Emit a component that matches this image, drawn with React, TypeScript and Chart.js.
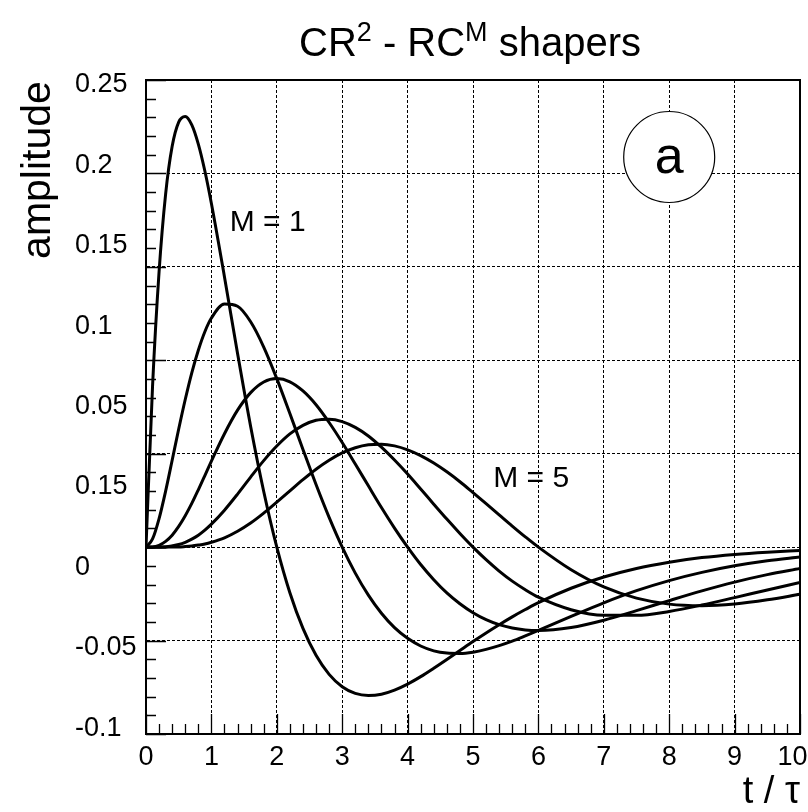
import React, { useEffect, useRef } from 'react';
import { Chart, registerables } from 'chart.js';

Chart.register(...registerables);

// time axis samples (t / tau)
const T = [0, 0.1, 0.2, 0.3, 0.4, 0.5, 0.6, 0.7, 0.8, 0.9, 1.0,
  1.2, 1.4, 1.6, 1.8, 2.0, 2.2, 2.4, 2.6, 2.8, 3.0,
  3.2, 3.4, 3.6, 3.8, 4.0, 4.2, 4.4, 4.6, 4.8, 5.0,
  5.2, 5.4, 5.6, 5.8, 6.0, 6.5, 7.0, 7.5, 8.0, 8.5, 9.0, 9.5, 10];

// shaper outputs, M = 1 ... 5
const M1 = [0, 0.0860, 0.1474, 0.1889, 0.2145, 0.2275, 0.2305, 0.2260, 0.2157, 0.2013, 0.1839,
  0.1446, 0.1036, 0.0646, 0.0298, 0, -0.0244, -0.0435, -0.0579, -0.0681, -0.0747,
  -0.0783, -0.0794, -0.0787, -0.0765, -0.0733, -0.0693, -0.0648, -0.0601, -0.0553, -0.0505,
  -0.0459, -0.0415, -0.0373, -0.0334, -0.0297, -0.0220, -0.0160, -0.0114, -0.0081, -0.0056, -0.0039, -0.0027, -0.0018];
const M2 = [0, 0.0044, 0.0153, 0.0300, 0.0465, 0.0632, 0.0790, 0.0933, 0.1054, 0.1153, 0.1226,
  0.1301, 0.1289, 0.1206, 0.1071, 0.0902, 0.0715, 0.0523, 0.0335, 0.0159, 0,
  -0.0139, -0.0257, -0.0354, -0.0431, -0.0488, -0.0529, -0.0555, -0.0567, -0.0569, -0.0562,
  -0.0547, -0.0527, -0.0503, -0.0475, -0.0446, -0.0371, -0.0298, -0.0233, -0.0179, -0.0135, -0.0100, -0.0073, -0.0053];
const M3 = [0, 0.0001, 0.0010, 0.0031, 0.0064, 0.0111, 0.0168, 0.0234, 0.0307, 0.0383, 0.0460,
  0.0607, 0.0733, 0.0827, 0.0884, 0.0902, 0.0885, 0.0836, 0.0762, 0.0667, 0.0560,
  0.0445, 0.0328, 0.0212, 0.0102, 0, -0.0093, -0.0174, -0.0245, -0.0303, -0.0351,
  -0.0388, -0.0415, -0.0433, -0.0443, -0.0446, -0.0430, -0.0391, -0.0340, -0.0286, -0.0234, -0.0187, -0.0147, -0.0114];
const M4 = [0, 0, 0.0001, 0.0002, 0.0007, 0.0014, 0.0026, 0.0043, 0.0064, 0.0091, 0.0123,
  0.0198, 0.0284, 0.0375, 0.0463, 0.0541, 0.0606, 0.0652, 0.0679, 0.0685, 0.0672,
  0.0641, 0.0595, 0.0535, 0.0466, 0.0391, 0.0311, 0.0230, 0.0150, 0.0073, 0,
  -0.0067, -0.0128, -0.0182, -0.0228, -0.0268, -0.0335, -0.0365, -0.0365, -0.0344, -0.0310, -0.0270, -0.0229, -0.0189];
const M5 = [0, 0, 0, 0, 0.0001, 0.0001, 0.0003, 0.0006, 0.0011, 0.0017, 0.0026,
  0.0050, 0.0085, 0.0129, 0.0182, 0.0241, 0.0301, 0.0361, 0.0417, 0.0465, 0.0504,
  0.0532, 0.0548, 0.0551, 0.0542, 0.0521, 0.0490, 0.0450, 0.0403, 0.0350, 0.0292,
  0.0233, 0.0173, 0.0113, 0.0055, 0, -0.0121, -0.0213, -0.0273, -0.0305, -0.0313, -0.0304, -0.0282, -0.0252];
const SERIES = [M1, M2, M3, M4, M5];

const X_TICKS = [0, 1, 2, 3, 4, 5, 6, 7, 8, 9, 10];
const Y_GRID = [-0.1, -0.05, 0, 0.05, 0.1, 0.15, 0.2, 0.25];
// tick labels exactly as printed on the figure (top to bottom)
const Y_LABELS = ['0.25', '0.2', '0.15', '0.1', '0.05', '0.15', '0', '-0.05', '-0.1'];

const TITLE_PARTS = [
  { text: 'CR', sup: false },
  { text: '2', sup: true },
  { text: ' - RC', sup: false },
  { text: 'M', sup: true },
  { text: ' shapers', sup: false },
];
const Y_TITLE = 'amplitude';
const X_TITLE = 't / \u03c4';
const CURVE_LABELS = [
  { text: 'M = 1', x: 1.28, y: 0.169 },
  { text: 'M = 5', x: 5.31, y: 0.032 },
];
const PANEL = { text: 'a', x: 8, y: 0.2088 };

const FONT = '"Liberation Sans", Arial, Helvetica, sans-serif';

const decorPlugin = {
  id: 'decor',
  beforeDatasetsDraw(chart: any) {
    const { ctx, chartArea, scales } = chart;
    const x = scales.x, y = scales.y;
    ctx.save();
    ctx.strokeStyle = '#000';
    ctx.lineWidth = 1.3;
    ctx.beginPath();
    for (let k = 0; k <= 50; k++) {
      const px = Math.round(x.getPixelForValue(k * 0.2)) + 0.5;
      const len = k % 5 === 0 ? 20 : 10;
      ctx.moveTo(px, chartArea.bottom);
      ctx.lineTo(px, chartArea.bottom - len);
    }
    for (let k = 0; k <= 35; k++) {
      const py = Math.round(y.getPixelForValue(-0.1 + k * 0.01)) + 0.5;
      const len = k % 5 === 0 ? 20 : 10;
      ctx.moveTo(chartArea.left, py);
      ctx.lineTo(chartArea.left + len, py);
    }
    ctx.stroke();
    ctx.restore();
  },
  afterDraw(chart: any) {
    const { ctx, chartArea, scales } = chart;
    const x = scales.x, y = scales.y;
    ctx.save();
    ctx.fillStyle = '#000';
    // title with superscripts
    const big = `40px ${FONT}`, small = `27px ${FONT}`;
    let total = 0;
    TITLE_PARTS.forEach((p) => { ctx.font = p.sup ? small : big; total += ctx.measureText(p.text).width; });
    let tx = (chartArea.left + chartArea.right) / 2 - 3 - total / 2;
    ctx.textAlign = 'left';
    ctx.textBaseline = 'alphabetic';
    TITLE_PARTS.forEach((p) => {
      ctx.font = p.sup ? small : big;
      ctx.fillText(p.text, tx, p.sup ? 41 : 56);
      tx += ctx.measureText(p.text).width;
    });
    // y title
    ctx.save();
    ctx.translate(50, 170);
    ctx.rotate(-Math.PI / 2);
    ctx.font = `41px ${FONT}`;
    ctx.textAlign = 'center';
    ctx.fillText(Y_TITLE, 0, 0);
    ctx.restore();
    // curve labels
    ctx.font = `30px ${FONT}`;
    ctx.textAlign = 'left';
    CURVE_LABELS.forEach((l) => ctx.fillText(l.text, x.getPixelForValue(l.x), y.getPixelForValue(l.y)));
    // panel marker
    const cx = x.getPixelForValue(PANEL.x), cy = y.getPixelForValue(PANEL.y);
    ctx.beginPath();
    ctx.arc(cx, cy, 45.5, 0, Math.PI * 2);
    ctx.fillStyle = '#fff';
    ctx.fill();
    ctx.lineWidth = 1.2;
    ctx.strokeStyle = '#000';
    ctx.stroke();
    ctx.fillStyle = '#000';
    ctx.font = `52px ${FONT}`;
    ctx.textAlign = 'center';
    ctx.fillText(PANEL.text, cx, cy + 16);
    ctx.restore();
  },
};

export default function App() {
  const ref = useRef<HTMLCanvasElement>(null);
  useEffect(() => {
    document.body.style.margin = '0';
    const canvas = ref.current!;
    const chart = new Chart(canvas, {
      type: 'line',
      data: {
        datasets: SERIES.map((s, k) => ({
          label: `M = ${k + 1}`,
          data: T.map((t, i) => ({ x: t, y: s[i] })),
          borderColor: '#000',
          borderWidth: 3,
          pointRadius: 0,
          fill: false,
          cubicInterpolationMode: 'monotone' as const,
          xAxisID: 'x',
          yAxisID: 'y',
        })),
      },
      options: {
        responsive: false,
        animation: false,
        events: [],
        layout: { padding: { left: 75, top: 80, right: 8, bottom: 0 } },
        plugins: { legend: { display: false }, tooltip: { enabled: false }, title: { display: false } },
        scales: {
          x: {
            type: 'linear', position: 'bottom', min: 0, max: 10,
            afterBuildTicks: (s: any) => { s.ticks = X_TICKS.map((v) => ({ value: v })); },
            ticks: {
              autoSkip: false, maxRotation: 0, padding: 7, color: '#000',
              font: { family: FONT, size: 27 },
              callback: (v: any) => (Number(v) === 10 ? '10\u00a0\u00a0' : String(v)),
            },
            grid: { color: '#000', lineWidth: 1, drawTicks: false },
            border: { color: '#000', width: 2, dash: [3, 2] },
            title: {
              display: true, text: X_TITLE, align: 'end', color: '#000',
              font: { family: FONT, size: 38, lineHeight: 1 }, padding: { top: 0, bottom: 0 },
            },
            afterFit: (s: any) => { s.height = 78; s.paddingLeft = 0; s.paddingRight = 0; },
          },
          y: {
            type: 'linear', position: 'left', weight: 0, min: -0.1, max: 0.25,
            afterBuildTicks: (s: any) => { s.ticks = Y_GRID.map((v) => ({ value: v })); },
            ticks: { display: false },
            grid: { color: '#000', lineWidth: 1, drawTicks: false },
            border: { color: '#000', width: 2, dash: [3, 2] },
            afterFit: (s: any) => { s.width = 0; s.paddingTop = 0; s.paddingBottom = 0; },
          },
          yLab: {
            type: 'linear', position: 'left', weight: 1, min: -0.062, max: 8.072, reverse: true,
            afterBuildTicks: (s: any) => { s.ticks = Y_LABELS.map((_, i) => ({ value: i })); },
            ticks: {
              autoSkip: false, crossAlign: 'far', padding: 0, color: '#000',
              font: { family: FONT, size: 27 },
              callback: (v: any) => Y_LABELS[Math.round(Number(v))],
            },
            grid: { display: false, drawTicks: false },
            border: { display: false },
            afterFit: (s: any) => { s.width = 71; s.paddingTop = 0; s.paddingBottom = 0; },
          },
          xTop: {
            type: 'linear', position: 'top', min: 0, max: 10,
            ticks: { display: false },
            grid: { display: false, drawTicks: false },
            border: { color: '#000', width: 2 },
            afterFit: (s: any) => { s.height = 0; s.paddingLeft = 0; s.paddingRight = 0; },
          },
          yRight: {
            type: 'linear', position: 'right', min: -0.1, max: 0.25,
            ticks: { display: false },
            grid: { display: false, drawTicks: false },
            border: { color: '#000', width: 2 },
            afterFit: (s: any) => { s.width = 0; s.paddingTop = 0; s.paddingBottom = 0; },
          },
        },
      } as any,
      plugins: [decorPlugin],
    });
    return () => chart.destroy();
  }, []);
  return (
    <div style={{ width: 808, height: 812 }}>
      <canvas ref={ref} width={808} height={812} style={{ display: 'block' }} />
    </div>
  );
}
